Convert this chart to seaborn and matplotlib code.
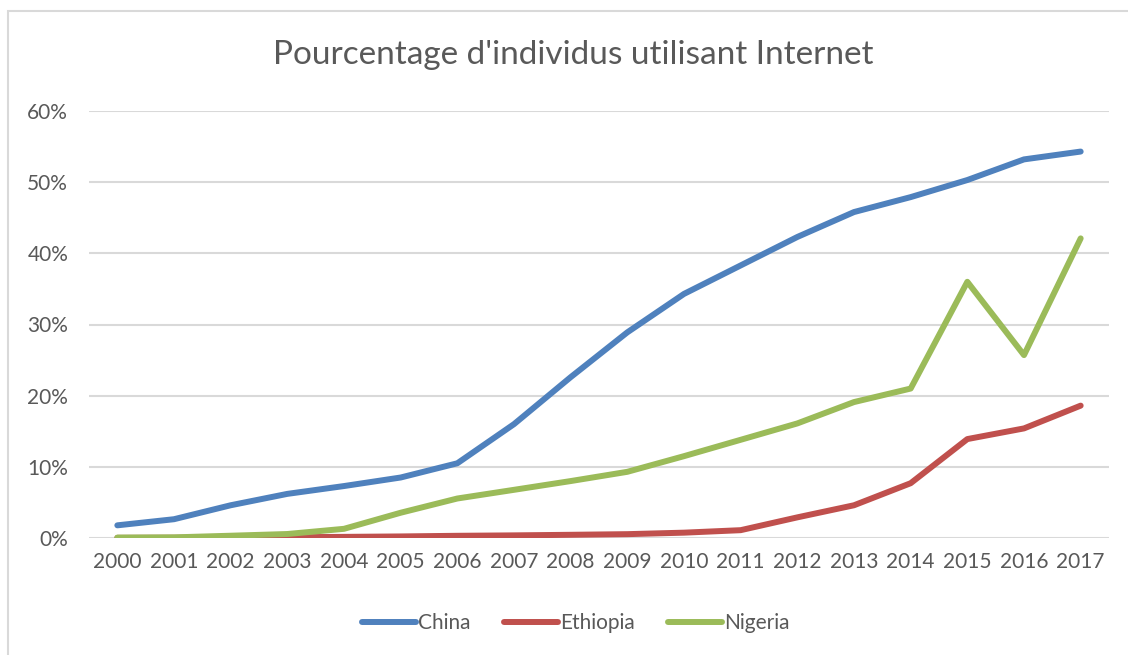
import numpy as np
import pandas as pd
import seaborn as sns
import matplotlib.pyplot as plt
from matplotlib.patches import Rectangle
from matplotlib.ticker import PercentFormatter

# Data (share of population using internet, %)
years = list(range(2000, 2018))
china = [1.78, 2.64, 4.6, 6.2, 7.3, 8.5, 10.5, 16.0, 22.6, 28.9, 34.3, 38.3, 42.3, 45.8, 47.9, 50.3, 53.2, 54.3]
ethiopia = [0.02, 0.04, 0.07, 0.11, 0.16, 0.22, 0.31, 0.37, 0.45, 0.54, 0.75, 1.1, 2.9, 4.6, 7.7, 13.9, 15.4, 18.6]
nigeria = [0.06, 0.09, 0.32, 0.56, 1.29, 3.55, 5.55, 6.77, 8.0, 9.3, 11.5, 13.8, 16.1, 19.1, 21.0, 36.0, 25.7, 42.1]

countries = ['China', 'Ethiopia', 'Nigeria']
colors = ['#4F81BD', '#C0504D', '#9BBB59']

df = pd.DataFrame({'year': years * 3,
                   'value': china + ethiopia + nigeria,
                   'country': np.repeat(countries, len(years))})

sns.set_style("white")
plt.rcParams['font.family'] = ['Lato', 'DejaVu Sans']
txt = '#595959'

fig = plt.figure(figsize=(11.28, 6.55), dpi=100)
ax = fig.add_axes([89/1128, 1 - 538/655, (1109 - 89)/1128, (538 - 111)/655])

# chart border (only top and left are inside the picture)
fig.patches.append(Rectangle((8/1128, -0.05), 1.1, 1.05 - 11/655, transform=fig.transFigure,
                             fill=False, edgecolor='#D9D9D9', linewidth=1.5))

sns.lineplot(data=df, x='year', y='value', hue='country', palette=colors,
             linewidth=4.3, ax=ax, solid_capstyle='round')

ax.set_xlim(1999.5, 2017.5)
ax.set_ylim(0, 60)
ax.set_yticks(range(0, 61, 10))
ax.yaxis.set_major_formatter(PercentFormatter(decimals=0))
ax.set_xticks(years)
ax.set_xticklabels([str(y) for y in years])
ax.grid(axis='y', color='#D9D9D9', linewidth=1.5)
ax.set_axisbelow(True)
for s in ax.spines.values():
    s.set_visible(False)
ax.tick_params(axis='both', length=0, labelsize=15, labelcolor=txt)
ax.tick_params(axis='x', pad=10)
ax.tick_params(axis='y', pad=15)
ax.set_xlabel('')
ax.set_ylabel('')

fig.text(573/1128, 1 - 55/655, "Pourcentage d'individus utilisant Internet",
         ha='center', va='center', fontsize=24, color=txt)

ax.legend_.remove()
handles, labels = ax.get_legend_handles_labels()
fig.legend(handles, labels, loc='center', bbox_to_anchor=(576/1128, 1 - 623/655), ncol=3,
           frameon=False, fontsize=15, labelcolor=txt, handlelength=2.6,
           handletextpad=0.1, columnspacing=1.6)

fig.savefig('out.png', dpi=100)
